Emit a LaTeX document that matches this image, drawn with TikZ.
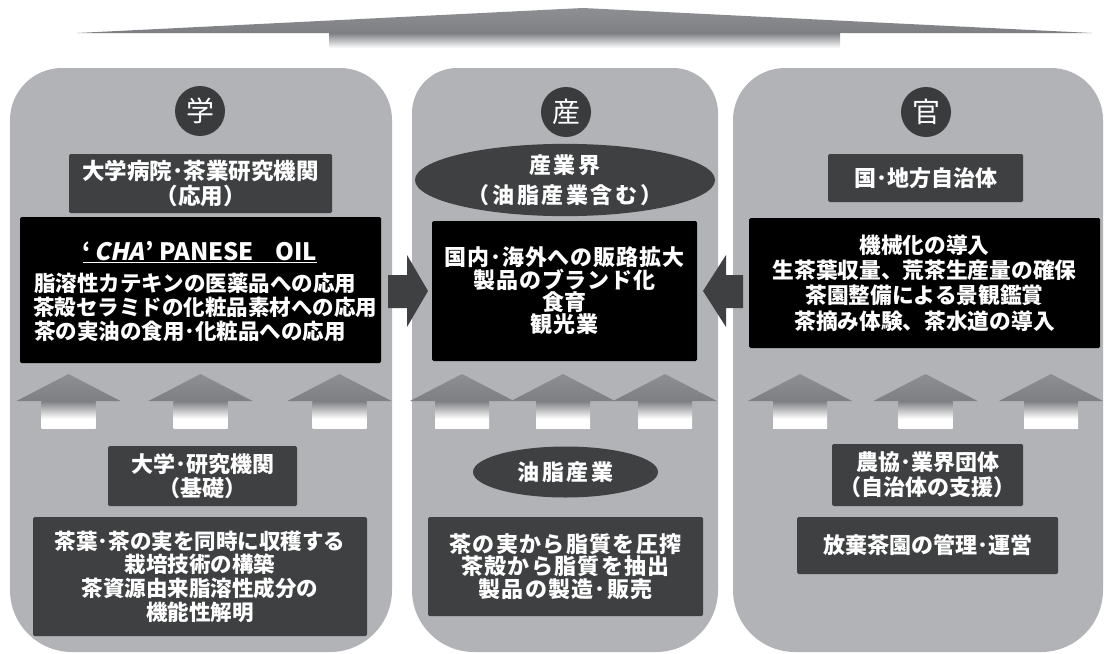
\documentclass[tikz,border=0pt]{standalone}
\usepackage{fontspec}
\usetikzlibrary{shapes.geometric}
\newfontfamily\jp{Noto Sans CJK JP}
\newfontfamily\jpit[FakeSlant=0.2]{Noto Sans CJK JP}
\newfontfamily\jpr{Noto Sans CJK JP}
\definecolor{panelgray}{HTML}{B1B3B6}
\definecolor{boxdark}{HTML}{3F4042}
\definecolor{badgedark}{HTML}{3A3B3D}
\definecolor{headtop}{HTML}{8E8F93}
\definecolor{headbot}{HTML}{7E7F83}
\pgfdeclareverticalshading{headshade}{100bp}{color(0bp)=(headbot); color(25bp)=(headbot); color(75bp)=(headtop); color(100bp)=(headtop)}
\pgfdeclareverticalshading{stemshade}{100bp}{color(0bp)=(white); color(25bp)=(white); color(42bp)=(white); color(75bp)=(headbot); color(100bp)=(headbot)}
\tikzset{
  fnt/.style 2 args={font={\jp\bfseries\fontsize{#1}{#2}\selectfont}},
  txt/.style={text=white, inner sep=0pt, align=center},
  darkbox/.style={fill=boxdark, rounded corners=1.5pt, inner sep=0pt, txt},
  blackbox/.style={fill=black, rounded corners=1.5pt, inner sep=0pt, txt},
  badge/.style={circle, fill=badgedark, minimum size=50pt, inner sep=0pt, text=white, font=\jpr\fontsize{28}{28}\selectfont},
  oval/.style={ellipse, fill=boxdark, inner sep=0pt, txt},
  blockarrow/.style={fill=boxdark},
  uparr/.pic={
    \shade[shading=headshade] (-52,0) -- (0,-27) -- (52,0) -- cycle;
    \shade[shading=stemshade] (-27,0) rectangle (27,27);
  }
}
\begin{document}
\begin{tikzpicture}[x=1pt,y=-1pt]
\useasboundingbox (0,0) rectangle (1107,653);
% top arrow
\shade[shading=headshade] (77,33) -- (583,8) -- (1092,33) -- cycle;
\shade[shading=stemshade] (329,33) rectangle (840,56);
% panels
\fill[panelgray] (10,360) [rounded corners=52pt] -- (10,68) -- (392,68) -- (392,360) [rounded corners=62pt] -- (392,652) -- (10,652) -- cycle;
\fill[panelgray] (412,360) [rounded corners=45pt] -- (412,68) -- (718,68) -- (718,360) [rounded corners=62pt] -- (718,652) -- (412,652) -- cycle;
\fill[panelgray] (733,360) [rounded corners=52pt] -- (733,68) -- (1103,68) -- (1103,360) [rounded corners=62pt] -- (1103,652) -- (733,652) -- cycle;
% up arrows
\foreach \cx in {68.5,200.5,339.5,462,563,665,800,925.5,1051}{
  \pic at (\cx,401) {uparr};
}
% ---------- left: 学 ----------
\node[badge] (bgaku) at (200,111) {学};
\node[darkbox, fnt={22.5}{25}, minimum width=263pt, minimum height=59pt] (lapp) at (200.5,183.5) {大学病院･茶業研究機関\\（応用）};
\node[blackbox, minimum width=361pt, minimum height=146pt] (lblack) at (200.5,290) {};
\node[txt, fnt={24}{24}, anchor=base] (ltitle) at (200,260) {\underline{‘\hspace{3pt}{\jpit\bfseries CHA}\hspace{1pt}’\hspace{5pt}PANESE\hspace{0.9em}OIL}};
\node[txt, fnt={21.5}{21.5}, anchor=base west] (l1) at (34,291) {脂溶性カテキンの医薬品への応用};
\node[txt, fnt={21.5}{21.5}, anchor=base west] (l2) at (33,315) {茶殻セラ{\addfontfeature{CharacterWidth=Proportional}ミド}の化粧品素材への応用};
\node[txt, fnt={21.5}{21.5}, anchor=base west] (l3) at (34,339) {茶の実油の食用･化粧品への応用};
\node[darkbox, fnt={22}{24}, minimum width=189pt, minimum height=60pt] (lbase) at (202.5,476) {大学･研究機関\\（基礎）};
\node[darkbox, fnt={21.5}{23.7}, minimum width=334pt, minimum height=119pt] (lbottom) at (200,576.5) {茶葉･茶の実を同時に収穫する\\栽培技術の構築\\茶資源由来脂溶性成分の\\機能性解明};
% ---------- middle: 産 ----------
\node[badge] (bsan) at (566,112) {産};
\node[oval, font={\jp\bfseries\fontsize{22}{30}\selectfont\addfontfeature{LetterSpace=12}}, minimum width=300pt, minimum height=68pt] (msan) at (565,180) {産業界\\（油脂産業含む）};
\node[blackbox, font={\jp\bfseries\fontsize{22}{22.3}\selectfont\addfontfeature{LetterSpace=4}}, minimum width=265pt, minimum height=140pt] (mblack) at (564.5,291) {国内･海外への販路拡大\\製品のブランド化\\食育\\観光業};
\node[oval, font={\jp\bfseries\fontsize{22}{22}\selectfont\addfontfeature{LetterSpace=12}}, minimum width=185pt, minimum height=51pt] (moil) at (565.5,472) {油脂産業};
\node[darkbox, font={\jp\bfseries\fontsize{22}{22.5}\selectfont\addfontfeature{LetterSpace=6}}, minimum width=275pt, minimum height=99pt] (mbottom) at (565.5,566.5) {茶の実から脂質を圧搾\\茶殻から脂質を抽出\\製品の製造･販売};
% ---------- right: 官 ----------
\node[badge] (bkan) at (926,112) {官};
\node[darkbox, fnt={22}{22}, minimum width=195pt, minimum height=48pt] (rgov) at (925.5,178) {国･地方自治体};
\node[blackbox, fnt={21.7}{25.3}, minimum width=351pt, minimum height=130pt] (rblack) at (924.5,283) {機械化の導入\\生茶葉収量、荒茶生産量の確保\\茶園整備による景観鑑賞\\茶摘み体験、茶水道の導入};
\node[darkbox, fnt={22}{25}, minimum width=191pt, minimum height=62pt] (rja) at (927.5,475) {農協･業界団体\\（自治体の支援）};
\node[darkbox, fnt={22}{22}, minimum width=261pt, minimum height=57pt] (rbottom) at (927.5,545.5) {放棄茶園の管理･運営};
% ---------- side block arrows ----------
\coordinate (ltip) at (428,291);
\coordinate (rtip) at (703,291);
\fill[blockarrow] (ltip) -- ++(-21,36) -- ++(0,-19) -- ++(-19,0) -- ++(0,-33) -- ++(19,0) -- ++(0,-20) -- cycle;
\fill[blockarrow] (rtip) -- ++(23,36) -- ++(0,-19) -- ++(17,0) -- ++(0,-33) -- ++(-17,0) -- ++(0,-20) -- cycle;
\end{tikzpicture}
\end{document}
